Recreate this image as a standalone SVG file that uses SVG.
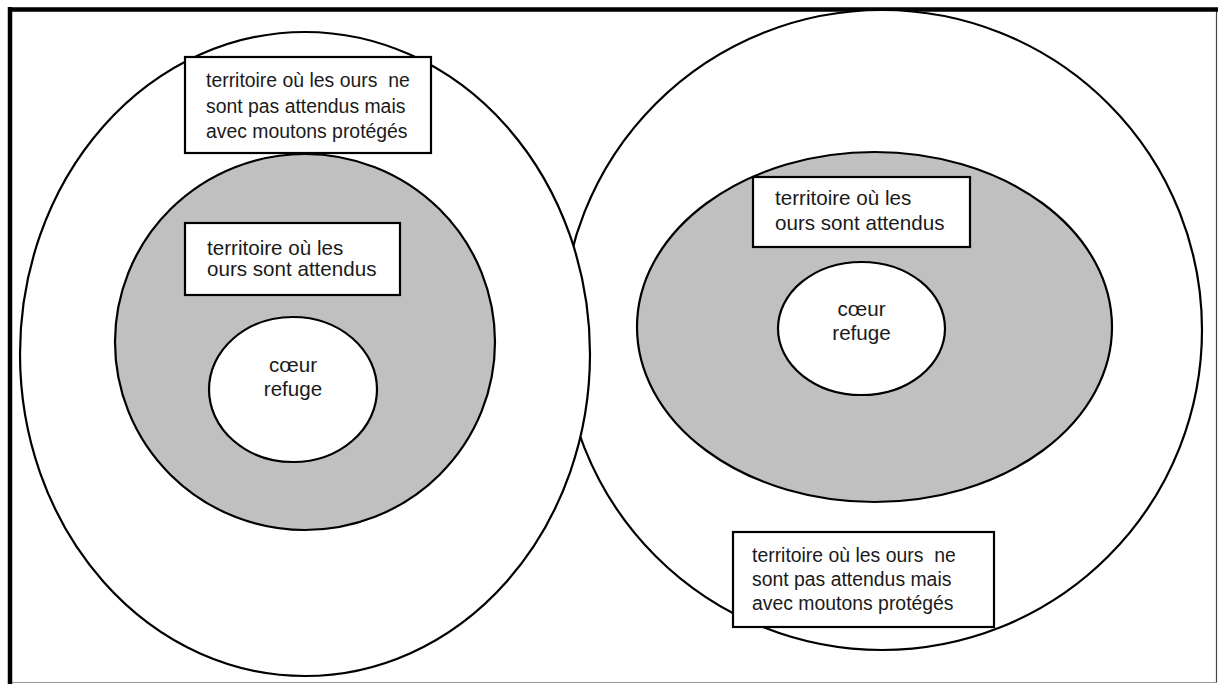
<svg xmlns="http://www.w3.org/2000/svg" width="1219" height="684" viewBox="0 0 1219 684">
<style>
.zone{stroke:#000;stroke-width:2.2}
.out{fill:#fff}
.mid{fill:#c0c0c0}
.box{fill:#fff;stroke:#000;stroke-width:2.2}
text{font-family:"Liberation Sans",Arial,sans-serif;fill:#1a1a1a}
.t19{font-size:19.4px}
.t20{font-size:20.6px}
.c{text-anchor:middle}
</style>
<rect x="0" y="0" width="1219" height="684" fill="#fff"/>
<g id="frame">
<line x1="1216.5" y1="9" x2="1216.5" y2="682.5" stroke="#444" stroke-width="1.2"/>
<line x1="10" y1="682.5" x2="1217" y2="682.5" stroke="#999" stroke-width="1.2"/>
<line x1="8" y1="9.5" x2="1218" y2="9.5" stroke="#000" stroke-width="4.5"/>
<line x1="10" y1="7" x2="10" y2="684" stroke="#000" stroke-width="4.5"/>
</g>
<g id="right-outer"><circle class="zone out" cx="882" cy="330" r="320"/></g>
<g id="left-outer"><ellipse class="zone out" cx="305" cy="354" rx="285" ry="322"/></g>
<g id="left-middle"><ellipse class="zone mid" cx="305" cy="342" rx="190" ry="188"/></g>
<g id="right-middle"><ellipse class="zone mid" cx="874.5" cy="327" rx="237.5" ry="175"/></g>
<g id="left-core">
<ellipse class="zone out" cx="293" cy="389.5" rx="84" ry="72.5"/>
<text class="t20 c" x="293" y="372">cœur</text>
<text class="t20 c" x="293" y="396">refuge</text>
</g>
<g id="right-core">
<ellipse class="zone out" cx="861.5" cy="328.5" rx="83.5" ry="66.5"/>
<text class="t20 c" x="861.5" y="316">cœur</text>
<text class="t20 c" x="861.5" y="340">refuge</text>
</g>
<g id="left-outer-label">
<rect class="box" x="185" y="57" width="246" height="96"/>
<text class="t19" x="206" y="87" xml:space="preserve">territoire où les ours  ne</text>
<text class="t19" x="206" y="113">sont pas attendus mais</text>
<text class="t19" x="206" y="138">avec moutons protégés</text>
</g>
<g id="left-middle-label">
<rect class="box" x="185" y="223" width="215" height="72"/>
<text class="t20" x="207" y="255">territoire où les</text>
<text class="t20" x="207" y="276">ours sont attendus</text>
</g>
<g id="right-middle-label">
<rect class="box" x="753" y="177" width="217" height="70"/>
<text class="t20" x="775" y="205">territoire où les</text>
<text class="t20" x="775" y="230">ours sont attendus</text>
</g>
<g id="right-outer-label">
<rect class="box" x="733" y="532" width="261" height="95"/>
<text class="t19" x="752" y="562" xml:space="preserve">territoire où les ours  ne</text>
<text class="t19" x="752" y="586">sont pas attendus mais</text>
<text class="t19" x="752" y="610">avec moutons protégés</text>
</g>
<g id="connectors"></g>
</svg>
